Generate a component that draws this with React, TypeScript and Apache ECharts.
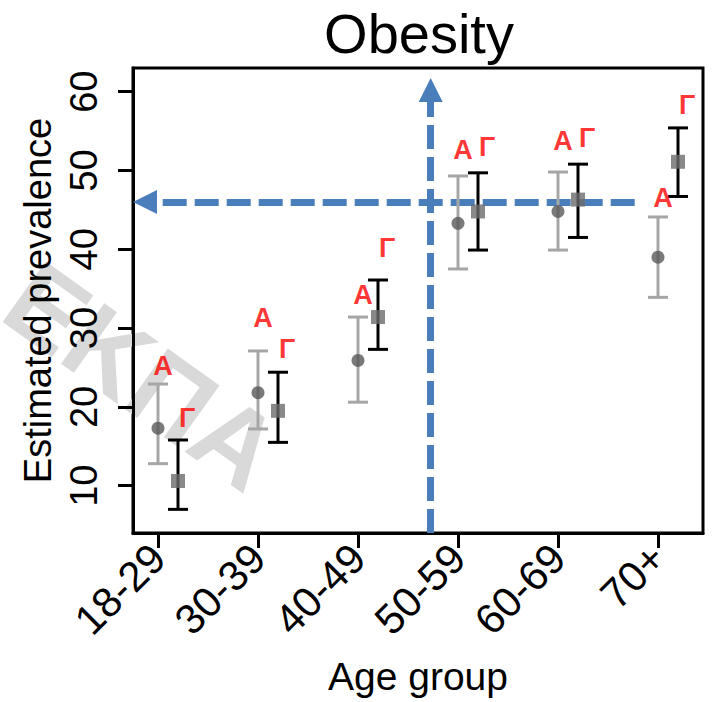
import React, { useEffect, useRef } from "react";
import * as echarts from "echarts";

const categories = ["18-29", "30-39", "40-49", "50-59", "60-69", "70+"];
const groupAEst = [17.3, 21.8, 25.9, 43.3, 44.8, 39.0];
const groupALow = [12.8, 17.2, 20.6, 37.5, 39.9, 33.9];
const groupAHigh = [22.9, 27.1, 31.4, 49.3, 49.8, 44.1];
const groupGEst = [10.6, 19.5, 31.4, 44.8, 46.3, 51.1];
const groupGLow = [7.0, 15.5, 27.3, 39.9, 41.5, 46.7];
const groupGHigh = [15.8, 24.4, 36.1, 49.7, 50.8, 55.4];
const labelAY = [25.2, 31.3, 34.2, 52.6, 53.7, 46.5];
const labelGY = [18.6, 27.3, 40.2, 53.0, 54.1, 58.3];
const yTicks = [10, 20, 30, 40, 50, 60];
const refY = 46;
const refX = 2.727;

const FONT = "'Liberation Sans', Arial, Helvetica, sans-serif";
const GOFF = 0.2;

export default function App() {
  const ref = useRef<HTMLDivElement>(null);
  useEffect(() => {
    if (!ref.current) return;
    const chart = echarts.init(ref.current, null, { renderer: "svg" });
    const xIdx = categories.map((_, i) => i);

    const errSeries = (name: string, dx: number, low: number[], high: number[], color: string) => ({
      name,
      type: "custom",
      z: 5,
      silent: true,
      data: xIdx.map((i) => [i + dx, low[i], high[i]]),
      encode: { x: 0, y: [1, 2] },
      renderItem: (params: any, api: any) => {
        const x = api.value(0);
        const lo = api.coord([x, api.value(1)]);
        const hi = api.coord([x, api.value(2)]);
        const hw = 10;
        const st = { stroke: color, lineWidth: 3 };
        return {
          type: "group",
          children: [
            { type: "line", shape: { x1: lo[0], y1: lo[1], x2: hi[0], y2: hi[1] }, style: st },
            { type: "line", shape: { x1: lo[0] - hw, y1: lo[1], x2: lo[0] + hw, y2: lo[1] }, style: st },
            { type: "line", shape: { x1: hi[0] - hw, y1: hi[1], x2: hi[0] + hw, y2: hi[1] }, style: st },
          ],
        };
      },
    });

    const labelSeries = (text: string, dx: number, ys: number[]) => ({
      type: "scatter",
      z: 8,
      silent: true,
      symbol: "circle",
      symbolSize: 1,
      itemStyle: { color: "rgba(0,0,0,0)" },
      data: xIdx.map((i) => [i + dx, ys[i]]),
      label: {
        show: true,
        position: "inside",
        formatter: text,
        color: "#FF0000",
        fontWeight: "bold",
        fontSize: 27,
        fontFamily: FONT,
      },
    });

    chart.setOption({
      animation: false,
      title: {
        text: "Obesity",
        left: 414,
        textAlign: "center",
        top: 0,
        textStyle: { fontSize: 56, fontWeight: "normal", color: "#000", fontFamily: FONT },
      },
      graphic: [
        {
          type: "text",
          z: 0,
          x: 143,
          y: 376,
          rotation: -0.62,
          silent: true,
          style: {
            text: "ΕΚΠΑ",
            fill: "#d9d9d9",
            font: `bold 108px ${FONT}`,
            align: "center",
            verticalAlign: "middle",
          },
        },
      ],
      grid: {
        left: 133,
        top: 68,
        right: 9,
        bottom: 169,
        show: true,
        borderColor: "#000",
        borderWidth: 3,
        backgroundColor: "transparent",
        outerBoundsMode: "none",
        containLabel: false,
      },
      xAxis: {
        type: "value",
        min: -0.25,
        max: 5.45,
        splitLine: { show: false },
        axisLine: { show: true, onZero: false, lineStyle: { color: "#000", width: 3 } },
        axisTick: { show: true, customValues: xIdx, length: 15, lineStyle: { color: "#000", width: 3 } },
        axisLabel: {
          customValues: xIdx,
          formatter: (v: number) => categories[Math.round(v)] ?? "",
          rotate: 45,
          fontSize: 42,
          color: "#000",
          margin: 18,
          fontFamily: FONT,
        },
        name: "Age group",
        nameLocation: "middle",
        nameGap: 124,
        nameTextStyle: { fontSize: 39, color: "#000", fontFamily: FONT },
      },
      yAxis: {
        type: "value",
        min: 4,
        max: 63,
        splitLine: { show: false },
        axisLine: { show: true, onZero: false, lineStyle: { color: "#000", width: 3 } },
        axisTick: { show: true, customValues: yTicks, length: 15, lineStyle: { color: "#000", width: 3 } },
        axisLabel: {
          customValues: yTicks,
          rotate: 90,
          fontSize: 38,
          color: "#000",
          margin: 30,
          fontFamily: FONT,
        },
        name: "Estimated prevalence",
        nameLocation: "middle",
        nameGap: 70,
        nameTextStyle: { fontSize: 38, color: "#000", fontFamily: FONT },
      },
      series: [
        {
          type: "line",
          data: [],
          z: 3,
          silent: true,
          markLine: {
            silent: true,
            symbol: ["none", "triangle"],
            symbolSize: 24,
            label: { show: false },
            emphasis: { disabled: true },
            lineStyle: { color: "#4A7EBB", width: 7, type: [24, 8], opacity: 1 },
            data: [
              [{ coord: [4.767, refY] }, { coord: [-0.13, refY] }],
              [{ coord: [refX, 4] }, { coord: [refX, 60.2] }],
            ],
          },
        },
        errSeries("A-err", 0, groupALow, groupAHigh, "#A6A6A6"),
        errSeries("G-err", GOFF, groupGLow, groupGHigh, "#000000"),
        {
          name: "Α",
          type: "scatter",
          z: 6,
          symbol: "circle",
          symbolSize: 13,
          itemStyle: { color: "#595959" },
          data: xIdx.map((i) => [i, groupAEst[i]]),
        },
        {
          name: "Γ",
          type: "scatter",
          z: 6,
          symbol: "rect",
          symbolSize: 14,
          itemStyle: { color: "#6B6B6B" },
          data: xIdx.map((i) => [i + GOFF, groupGEst[i]]),
        },
        labelSeries("Α", 0.05, labelAY),
        labelSeries("Γ", 0.29, labelGY),
      ],
    });
    return () => chart.dispose();
  }, []);
  return (
    <div
      ref={ref}
      style={{ position: "fixed", left: 0, top: 0, width: 712, height: 702, background: "#fff" }}
    />
  );
}
